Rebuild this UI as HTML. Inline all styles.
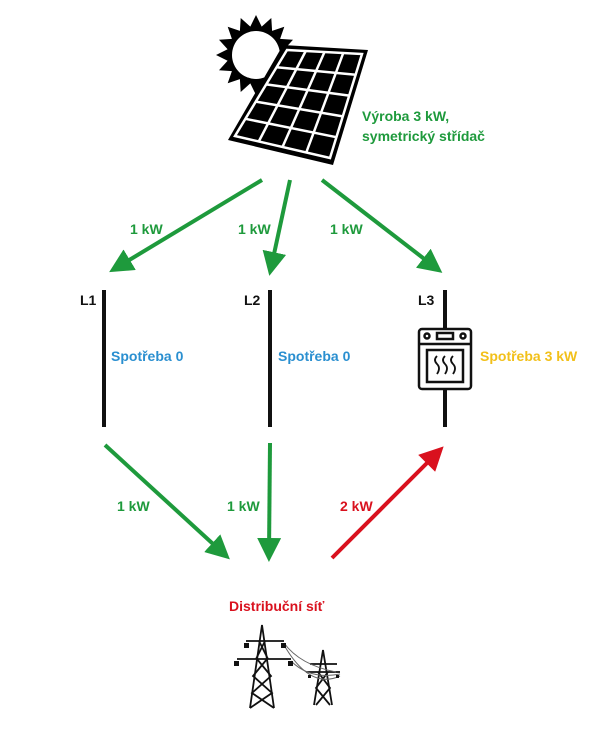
<!DOCTYPE html>
<html><head><meta charset="utf-8"><style>
html,body{margin:0;padding:0;background:#fff;width:610px;height:730px;overflow:hidden}
svg{display:block}
text{font-family:"Liberation Sans",sans-serif;font-weight:bold;font-size:14px}
</style></head><body>
<svg width="610" height="730" viewBox="0 0 610 730">
<defs>
<marker id="g" markerWidth="6" markerHeight="6" refX="4" refY="3" orient="auto" markerUnits="strokeWidth"><path d="M0,0 L6,3 L0,6 z" fill="#1e9a3c"/></marker>
<marker id="r" markerWidth="6" markerHeight="6" refX="4" refY="3" orient="auto" markerUnits="strokeWidth"><path d="M0,0 L6,3 L0,6 z" fill="#d9111e"/></marker>
</defs>
<!-- sun -->
<polygon fill="#000" points="256,15 261.7,26.6 271.3,18 272.1,30.9 284.3,26.7 280.1,38.9 293,39.7 284.4,49.3 296,55 284.4,60.7 293,70.3 280.1,71.1 284.3,83.3 272.1,79.1 271.3,92 261.7,83.4 256,95 250.3,83.4 240.7,92 239.9,79.1 227.7,83.3 231.9,71.1 219,70.3 227.6,60.7 216,55 227.6,49.3 219,39.7 231.9,38.9 227.7,26.7 239.9,30.9 240.7,18 250.3,26.6"/>
<circle cx="256" cy="55" r="24" fill="#fff"/>
<!-- panel -->
<polygon points="283,45 368,50 333,165 228,140" fill="#000"/>
<g stroke="#fff" stroke-width="2.5" fill="none">
<polygon points="287,50 362,54 330,158 235,136"/>
<line x1="305.75" y1="51" x2="258.75" y2="141.5"/>
<line x1="324.5" y1="52" x2="282.5" y2="147"/>
<line x1="343.25" y1="53" x2="306.25" y2="152.5"/>
<line x1="276.6" y1="67.2" x2="355.6" y2="74.8"/>
<line x1="266.2" y1="84.4" x2="349.2" y2="95.6"/>
<line x1="255.8" y1="101.6" x2="342.8" y2="116.4"/>
<line x1="245.4" y1="118.8" x2="336.4" y2="137.2"/>
</g>
<text x="362" y="121" fill="#1e9a3c">Výroba 3 kW,</text>
<text x="362" y="141" fill="#1e9a3c">symetrický střídač</text>
<!-- arrows -->
<g stroke="#1e9a3c" stroke-width="4" fill="none">
<line x1="262" y1="180" x2="116" y2="268" marker-end="url(#g)"/>
<line x1="290" y1="180" x2="271" y2="268" marker-end="url(#g)"/>
<line x1="322" y1="180" x2="436" y2="268" marker-end="url(#g)"/>
<line x1="105" y1="445" x2="224" y2="554" marker-end="url(#g)"/>
<line x1="270" y1="443" x2="269" y2="554" marker-end="url(#g)"/>
</g>
<line x1="332" y1="558" x2="438" y2="452" stroke="#d9111e" stroke-width="4" marker-end="url(#r)"/>
<text x="130" y="234" fill="#1e9a3c">1 kW</text>
<text x="238" y="234" fill="#1e9a3c">1 kW</text>
<text x="330" y="234" fill="#1e9a3c">1 kW</text>
<text x="117" y="511" fill="#1e9a3c">1 kW</text>
<text x="227" y="511" fill="#1e9a3c">1 kW</text>
<text x="340" y="511" fill="#d9111e">2 kW</text>
<!-- lines -->
<g stroke="#111" stroke-width="4">
<line x1="104" y1="290" x2="104" y2="427"/>
<line x1="270" y1="290" x2="270" y2="427"/>
<line x1="445" y1="290" x2="445" y2="328"/>
<line x1="445" y1="390" x2="445" y2="427"/>
</g>
<text x="80" y="305" fill="#111">L1</text>
<text x="244" y="305" fill="#111">L2</text>
<text x="418" y="305" fill="#111">L3</text>
<text x="111" y="361" fill="#2a8fd0">Spotřeba 0</text>
<text x="278" y="361" fill="#2a8fd0">Spotřeba 0</text>
<text x="480" y="361" fill="#f2c01a">Spotřeba 3 kW</text>
<!-- oven -->
<g stroke="#111" stroke-width="2.5" fill="none">
<rect x="419" y="329" width="52" height="60" rx="3"/>
<line x1="419" y1="344" x2="471" y2="344"/>
<rect x="427" y="350" width="36" height="32"/>
<circle cx="427" cy="336" r="2.5"/><circle cx="463" cy="336" r="2.5"/>
<rect x="437" y="333" width="16" height="6"/>
<path d="M437,356 q-4,4 0,8 q4,4 0,10" stroke-width="1.8"/>
<path d="M445,356 q-4,4 0,8 q4,4 0,10" stroke-width="1.8"/>
<path d="M453,356 q-4,4 0,8 q4,4 0,10" stroke-width="1.8"/>
</g>
<text x="229" y="611" fill="#d9111e">Distribuční síť</text>
<!-- towers -->
<g stroke="#111" stroke-width="1.8" fill="none">
<path d="M250,708 L262,625 L274,708"/>
<line x1="246" y1="641" x2="284" y2="641"/><line x1="237" y1="659" x2="291" y2="659"/>
<path d="M257,659 L271,676 L252,693 L274,708 M267,659 L253,676 L272,693 L250,708 M259,641 L268,659 M265,641 L256,659"/>
<path d="M314,705 L323,650 L332,705"/>
<line x1="310" y1="664" x2="337" y2="664"/><line x1="306" y1="672" x2="340" y2="672"/>
<path d="M318,672 L330,688 L316,705 M328,672 L316,688 L330,705"/>
</g>
<g stroke="#666" stroke-width="1" fill="none">
<path d="M284,643 Q300,665 336,672"/><path d="M291,661 Q310,680 340,674"/><path d="M284,645 Q310,690 340,676"/>
</g>
<g fill="#111">
<rect x="244" y="643" width="5" height="5"/><rect x="281" y="643" width="5" height="5"/>
<rect x="234" y="661" width="5" height="5"/><rect x="288" y="661" width="5" height="5"/>
<rect x="308" y="675" width="3" height="3"/><rect x="336" y="675" width="3" height="3"/>
</g>
</svg>
</body></html>
